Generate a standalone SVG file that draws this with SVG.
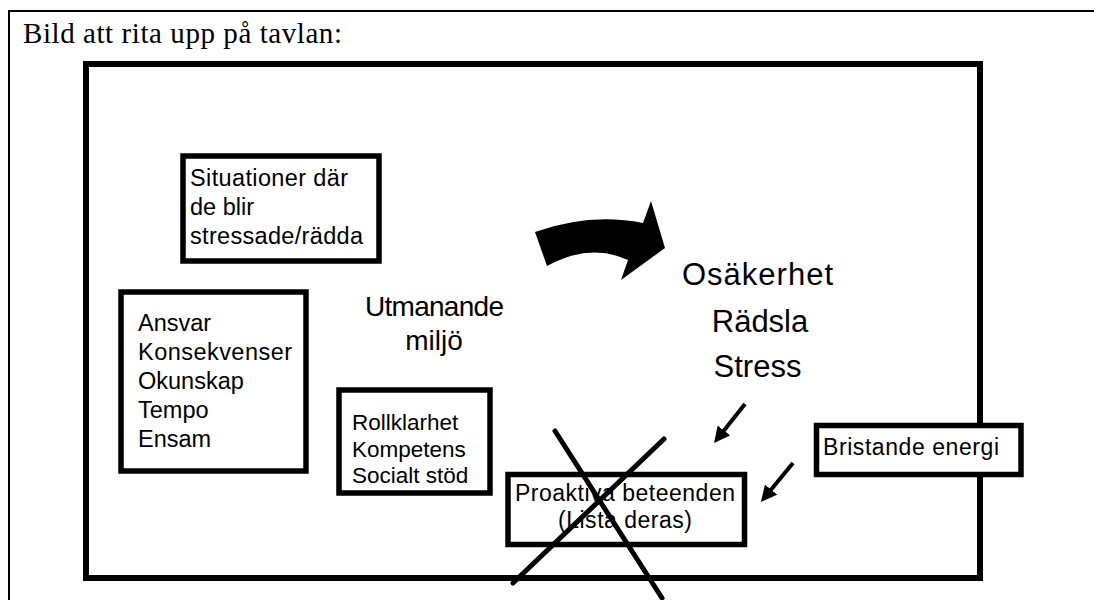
<svg xmlns="http://www.w3.org/2000/svg" width="1094" height="600" viewBox="0 0 1094 600">
  <defs>
    <style>
      .frame { fill: none; stroke: #000; stroke-width: 2; }
      .board { fill: none; stroke: #000; stroke-width: 6; }
      .box { fill: #fff; stroke: #000; stroke-width: 5.5; }
      .t { font-family: "Liberation Sans", Arial, sans-serif; fill: #000; }
      .title { font-family: "Liberation Serif", "Times New Roman", serif; font-size: 29px; fill: #000; }
      .arrow { stroke: #000; stroke-width: 4; fill: none; marker-end: url(#head); }
      .cross { stroke: #000; stroke-width: 5; stroke-linecap: round; }
    </style>
    <marker id="head" viewBox="0 0 10 10" refX="6" refY="5" markerWidth="4" markerHeight="4" orient="auto" markerUnits="strokeWidth">
      <path d="M0,0 L10,5 L0,10 Z" fill="#000"/>
    </marker>
  </defs>

  <rect width="1094" height="600" fill="#fff"/>

  <!-- page frame and heading -->
  <path class="frame" d="M9,600 L9,11 L1094,11"/>
  <text class="title" x="23" y="43" textLength="319" lengthAdjust="spacing">Bild att rita upp på tavlan:</text>

  <!-- whiteboard outline -->
  <rect class="board" x="86" y="64" width="894" height="514"/>

  <g id="situationer">
    <rect class="box" x="183" y="156" width="196" height="105"/>
    <text class="t" font-size="23.5" x="190" y="186" textLength="158" lengthAdjust="spacing">Situationer där</text>
    <text class="t" font-size="23.5" x="190" y="215">de blir</text>
    <text class="t" font-size="23.5" x="190" y="244" textLength="173" lengthAdjust="spacing">stressade/rädda</text>
  </g>

  <g id="faktorer">
    <rect class="box" x="121" y="292" width="185" height="179"/>
    <text class="t" font-size="23.5" x="138" y="331">Ansvar</text>
    <text class="t" font-size="23.5" x="138" y="360" textLength="154" lengthAdjust="spacing">Konsekvenser</text>
    <text class="t" font-size="23.5" x="138" y="389">Okunskap</text>
    <text class="t" font-size="23.5" x="138" y="418">Tempo</text>
    <text class="t" font-size="23.5" x="138" y="447">Ensam</text>
  </g>

  <g id="miljo">
    <text class="t" font-size="28" x="434.5" y="316" text-anchor="middle" textLength="139" lengthAdjust="spacing">Utmanande</text>
    <text class="t" font-size="28" x="434" y="350" text-anchor="middle">miljö</text>
  </g>

  <g id="resurser">
    <rect class="box" x="339" y="390" width="151" height="103"/>
    <text class="t" font-size="22.5" x="352" y="430">Rollklarhet</text>
    <text class="t" font-size="22.5" x="352" y="457">Kompetens</text>
    <text class="t" font-size="22.5" x="352" y="483">Socialt stöd</text>
  </g>

  <g id="reaktioner">
    <text class="t" font-size="31" x="757.5" y="285" text-anchor="middle" textLength="151" lengthAdjust="spacing">Osäkerhet</text>
    <text class="t" font-size="31" x="760" y="332" text-anchor="middle">Rädsla</text>
    <text class="t" font-size="31" x="757.5" y="377" text-anchor="middle">Stress</text>
  </g>

  <g id="energi">
    <rect class="box" x="816.5" y="425.5" width="204.5" height="49"/>
    <text class="t" font-size="23" x="823" y="455" textLength="176" lengthAdjust="spacing">Bristande energi</text>
  </g>

  <g id="proaktiva">
    <rect class="box" x="508" y="474.5" width="236.5" height="70"/>
    <text class="t" font-size="23" x="625" y="501" text-anchor="middle" textLength="220" lengthAdjust="spacing">Proaktiva beteenden</text>
    <text class="t" font-size="23" x="625" y="528" text-anchor="middle" textLength="134" lengthAdjust="spacing">(Lista deras)</text>
  </g>

  <g id="connectors">
    <!-- curved block arrow from the environment to the reactions -->
    <path d="M535,232 Q590,212.5 643,223 L651,201 L665,248 L621,280 L628,260 Q590,242.5 547,266 Z" fill="#000"/>
    <line class="arrow" x1="745" y1="404" x2="718" y2="438"/>
    <line class="arrow" x1="793" y1="463" x2="765" y2="497"/>
    <!-- crossing out -->
    <line class="cross" x1="555" y1="431" x2="662" y2="598"/>
    <line class="cross" x1="664" y1="439" x2="513" y2="583"/>
  </g>
</svg>
